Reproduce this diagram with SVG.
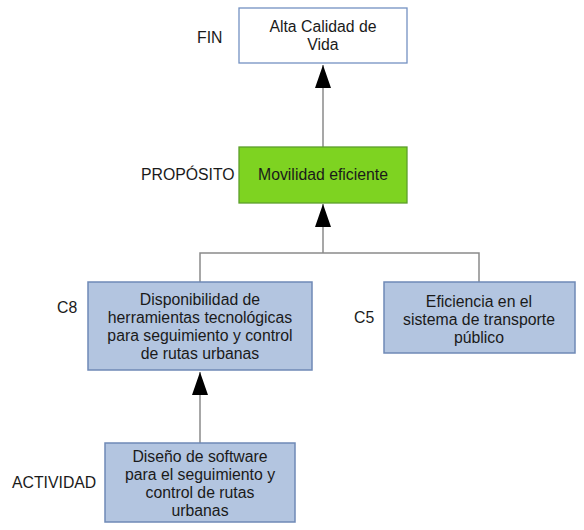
<svg xmlns="http://www.w3.org/2000/svg" width="584" height="530" viewBox="0 0 584 530">
<style>
text{font-family:"Liberation Sans",Arial,sans-serif;font-size:15.8px;fill:#1a1a1a}
.c{text-anchor:middle}
.conn{fill:none;stroke:#8a8a8a;stroke-width:1.5}
.white{fill:#ffffff;stroke:#7391c2;stroke-width:1.3}
.green{fill:#7ed321;stroke:#5c9e2c;stroke-width:1.3}
.blue{fill:#b3c5e0;stroke:#6f89b6;stroke-width:1.5}
</style>
<defs>
<marker id="ah" viewBox="0 0 23 16" refX="23" refY="8" markerWidth="23" markerHeight="16" markerUnits="userSpaceOnUse" orient="auto">
<path d="M0,0 L23,8 L0,16 Z" fill="#000"/>
</marker>
</defs>
<rect width="584" height="530" fill="#ffffff"/>
<g id="connectors">
<path class="conn" d="M323,147 V65" marker-end="url(#ah)"/>
<path class="conn" d="M200,282 V253 H479 V282"/>
<path class="conn" d="M323,253 V204" marker-end="url(#ah)"/>
<path class="conn" d="M200,443 V372" marker-end="url(#ah)"/>
</g>
<g id="fin">
<rect class="white" x="239" y="8" width="168" height="55"/>
<text class="c" x="323" y="32">Alta Calidad de</text>
<text class="c" x="323" y="50">Vida</text>
</g>
<g id="proposito">
<rect class="green" x="239" y="147" width="168" height="56"/>
<text class="c" x="323" y="180">Movilidad eficiente</text>
</g>
<g id="c8">
<rect class="blue" x="88" y="282" width="224" height="88"/>
<text class="c" x="200" y="305">Disponibilidad de</text>
<text class="c" x="200" y="323">herramientas tecnológicas</text>
<text class="c" x="200" y="341">para seguimiento y control</text>
<text class="c" x="200" y="359">de rutas urbanas</text>
</g>
<g id="c5">
<rect class="blue" x="384" y="282" width="191" height="71"/>
<text class="c" x="479" y="307">Eficiencia en el</text>
<text class="c" x="479" y="325">sistema de transporte</text>
<text class="c" x="479" y="343">público</text>
</g>
<g id="actividad">
<rect class="blue" x="105" y="443" width="190" height="79"/>
<text class="c" x="200" y="462">Diseño de software</text>
<text class="c" x="200" y="480">para el seguimiento y</text>
<text class="c" x="200" y="498">control de rutas</text>
<text class="c" x="200" y="516">urbanas</text>
</g>
<g id="labels">
<text x="197" y="43">FIN</text>
<text x="141" y="180">PROPÓSITO</text>
<text x="57" y="313">C8</text>
<text x="354" y="323">C5</text>
<text x="12" y="488">ACTIVIDAD</text>
</g>
</svg>
